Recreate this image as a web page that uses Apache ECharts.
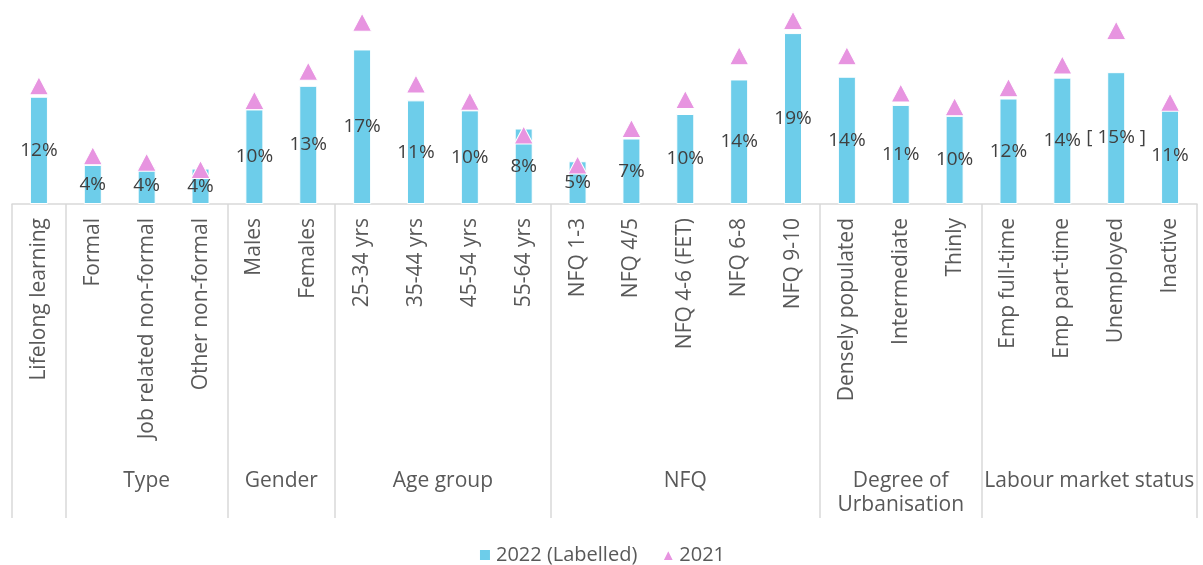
<!DOCTYPE html>
<html>
<head>
<meta charset="utf-8">
<script src="https://cdn.jsdelivr.net/npm/echarts@6/dist/echarts.min.js"></script>
<style>
  html, body { margin: 0; padding: 0; background: #ffffff; }
  #chart { width: 1203px; height: 565px; }
</style>
</head>
<body>
<div id="chart"></div>
<script>
// Participation in lifelong learning by characteristic
const categories = [
  'Lifelong learning',
  'Formal', 'Job related non-formal', 'Other non-formal',
  'Males', 'Females',
  '25-34 yrs', '35-44 yrs', '45-54 yrs', '55-64 yrs',
  'NFQ 1-3', 'NFQ 4/5', 'NFQ 4-6 (FET)', 'NFQ 6-8', 'NFQ 9-10',
  'Densely populated', 'Intermediate', 'Thinly',
  'Emp full-time', 'Emp part-time', 'Unemployed', 'Inactive'
];

// Category groups along the axis (name, number of categories)
const groupNames = ['', 'Type', 'Gender', 'Age group', 'NFQ', 'Degree of\nUrbanisation', 'Labour market status'];
const groupSizes = [1, 3, 2, 4, 5, 3, 4];

// Rates in percent
const values2022 = [11.8, 4.3, 4.1, 3.9, 10.4, 13.0, 17.0, 11.4, 10.3, 8.3, 4.7, 7.2, 9.9, 13.7, 18.8, 14.0, 10.9, 9.7, 11.6, 13.9, 14.5, 10.6];
const values2021 = [13.0, 5.3, 4.6, 3.8, 11.4, 14.6, 20.0, 13.2, 11.3, 7.6, 4.3, 8.3, 11.5, 16.3, 20.2, 16.3, 12.2, 10.7, 12.8, 15.3, 19.1, 11.2];

// Estimates shown with a caution bracket
const bracketed = ['Unemployed'];

const seriesNames = ['2022 (Labelled)', '2021'];

// Group boundaries and centres on a 0..N scale
const boundaries = [0];
const centres = [];
const centreNames = {};
groupSizes.forEach((n, i) => {
  const start = boundaries[boundaries.length - 1];
  boundaries.push(start + n);
  if (groupNames[i]) {
    const c = start + n / 2;
    centres.push(c);
    centreNames[c] = groupNames[i];
  }
});

const FONT = '"Open Sans", sans-serif';
const TEXT = '#595959';
const LINE = '#d9d9d9';

const chart = echarts.init(document.getElementById('chart'), null, { renderer: 'canvas' });

chart.setOption({
  animation: false,
  textStyle: { fontFamily: FONT },
  grid: { left: 12, right: 6, top: 4, bottom: 361, containLabel: false, outerBoundsMode: 'none' },
  legend: {
    data: [
      { name: seriesNames[0], icon: 'rect' },
      { name: seriesNames[1], icon: 'triangle' }
    ],
    left: 'center',
    top: 540,
    itemWidth: 12,
    itemHeight: 12,
    itemGap: 24,
    textStyle: { color: TEXT, fontSize: 20, fontFamily: FONT }
  },
  xAxis: [
    {
      type: 'category',
      data: categories,
      axisLine: { show: false },
      axisTick: { show: false },
      axisLabel: {
        interval: 0,
        rotate: 90,
        margin: 14,
        color: TEXT,
        fontSize: 21,
        fontFamily: FONT
      }
    },
    {
      type: 'value',
      min: 0,
      max: categories.length,
      position: 'bottom',
      axisLine: { show: true, lineStyle: { color: LINE, width: 1.5 } },
      splitLine: { show: false },
      axisTick: {
        show: true,
        inside: false,
        length: 314,
        customValues: boundaries,
        lineStyle: { color: LINE, width: 1.5 }
      },
      axisLabel: {
        show: true,
        customValues: centres,
        margin: 265,
        color: TEXT,
        fontSize: 21,
        fontFamily: FONT,
        lineHeight: 24,
        verticalAlign: 'top',
        formatter: (v) => centreNames[v] || ''
      }
    }
  ],
  yAxis: {
    type: 'value',
    min: 0,
    max: 22,
    show: false,
    splitLine: { show: false }
  },
  series: [
    {
      name: seriesNames[0],
      type: 'bar',
      xAxisIndex: 0,
      data: values2022,
      barWidth: 18,
      itemStyle: { color: '#6dcdea', borderColor: '#ffffff', borderWidth: 1 },
      label: {
        show: true,
        position: 'inside',
        color: '#404040',
        fontSize: 19,
        fontFamily: FONT,
        formatter: (p) => {
          const t = Math.round(p.value) + '%';
          return bracketed.includes(p.name) ? '[ ' + t + ' ]' : t;
        }
      },
      z: 2
    },
    {
      name: seriesNames[1],
      type: 'scatter',
      xAxisIndex: 0,
      data: values2021,
      symbol: 'triangle',
      symbolSize: [19, 18],
      itemStyle: { color: '#e794e0', borderColor: '#ffffff', borderWidth: 1, opacity: 1 },
      z: 2
    }
  ]
});
</script>
</body>
</html>
